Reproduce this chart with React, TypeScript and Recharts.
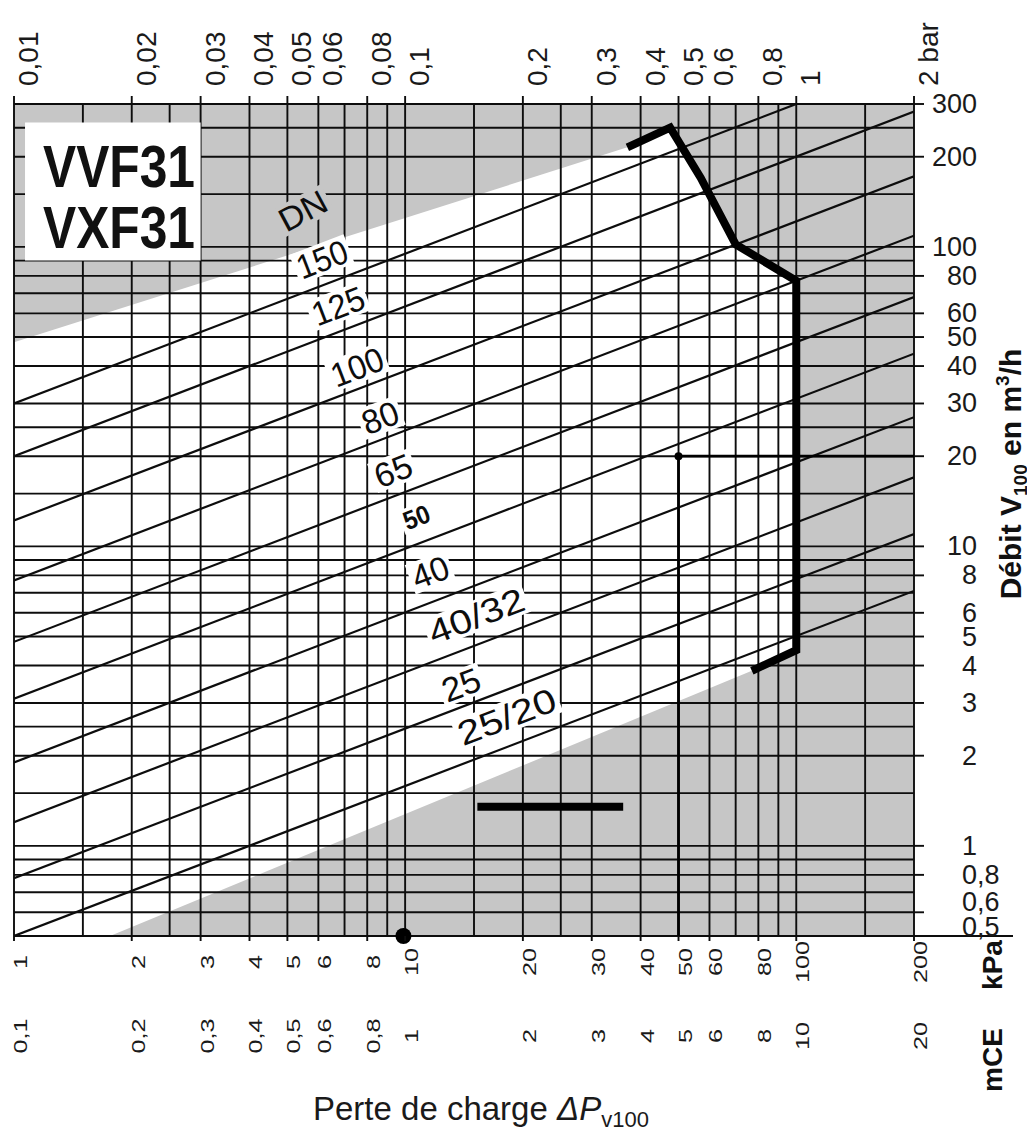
import React from 'react';
import {
  ComposedChart,
  XAxis,
  YAxis,
  ReferenceLine,
  ReferenceArea,
  ReferenceDot,
  Line,
  Area,
} from 'recharts';

// ---------- data ----------
// grid values
const pressureGridKpa = [1, 1.5, 2, 2.5, 3, 4, 5, 6, 7, 8, 9, 10, 15, 20, 25, 30, 40, 50, 60, 70, 80, 90, 100, 150, 200];
const flowGridM3h = [0.5, 0.6, 0.7, 0.8, 0.9, 1, 1.5, 2, 2.5, 3, 4, 5, 6, 7, 8, 9, 10, 15, 20, 25, 30, 40, 50, 60, 70, 80, 90, 100, 150, 200, 250, 300];

// axis ticks
const pressureTicksKpa = [1, 2, 3, 4, 5, 6, 8, 10, 20, 30, 40, 50, 60, 80, 100, 200];
const barTickLabels = ['0,01', '0,02', '0,03', '0,04', '0,05', '0,06', '0,08', '0,1', '0,2', '0,3', '0,4', '0,5', '0,6', '0,8', '1', '2 bar'];
const kpaTickLabels = ['1', '2', '3', '4', '5', '6', '8', '10', '20', '30', '40', '50', '60', '80', '100', '200'];
const mceTickLabels = ['0,1', '0,2', '0,3', '0,4', '0,5', '0,6', '0,8', '1', '2', '3', '4', '5', '6', '8', '10', '20'];
const flowTicks = [0.5, 0.6, 0.8, 1, 2, 3, 4, 5, 6, 8, 10, 20, 30, 40, 50, 60, 80, 100, 200, 300];
const flowTickLabels = ['0,5', '0,6', '0,8', '1', '2', '3', '4', '5', '6', '8', '10', '20', '30', '40', '50', '60', '80', '100', '200', '300'];

// DN lines (start at 1 kPa, end at chart border)
const dnNames = ['150', '125', '100', '80', '65', '50', '40', '40/32', '25', '25/20'];
const dnStartKpa = [1, 1, 1, 1, 1, 1, 1, 1, 1, 1];
const dnStartFlow = [30, 20, 12.2, 7.7, 4.8, 3.1, 1.9, 1.2, 0.78, 0.5];
const dnEndKpa = [100, 200, 200, 200, 200, 200, 200, 200, 200, 200];
const dnEndFlow = [300, 283, 172, 109, 68, 44, 27, 17, 11, 7.1];
const dnLabelKpa = [6.13, 6.74, 7.54, 8.63, 9.32, 10.7, 11.6, 15.2, 13.9, 18.2];
const dnLabelFlow = [91, 63.5, 39.7, 26.9, 17.9, 12.5, 8.2, 5.86, 3.45, 2.7];
const dnHeaderKpa = 5.48;
const dnHeaderFlow = 132;

// thick limit curve
const limitKpa = [37, 47.6, 57, 70, 100, 100, 77];
const limitFlow = [215, 250, 170, 102, 77, 4.5, 3.84];

// white band boundaries
const bandTopKpa = [1, 37, 47.6, 57, 70, 100];
const bandTopFlow = [48, 215, 250, 170, 102, 77];
const bandLowKpa = [1.76, 77, 100];
const bandLowFlow = [0.5, 3.84, 4.5];

// example reading
const exampleKpa = [50, 50, 200];
const exampleFlow = [0.5, 20, 20];
const legendBarKpa = [15.3, 36.1];
const legendBarFlow = [1.35, 1.35];
const bottomDotKpa = 9.9;
const bottomDotFlow = 0.5;

// title box extent
const boxKpa = [1.067, 3];
const boxFlow = [90, 260];

// ---------- derived tables ----------
const toPts = (xs: number[], ys: number[]) => xs.map((x, i) => ({ x, y: ys[i] }));
const dnSeries = dnNames.map((n, i) => ({
  name: n,
  points: [
    { x: dnStartKpa[i], y: dnStartFlow[i] },
    { x: dnEndKpa[i], y: dnEndFlow[i] },
  ],
}));
const limitPts = toPts(limitKpa, limitFlow);
const bandTopPts = toPts(bandTopKpa, bandTopFlow);
const bandLowPts = toPts(bandLowKpa, bandLowFlow);
const examplePts = toPts(exampleKpa, exampleFlow);
const legendBarPts = toPts(legendBarKpa, legendBarFlow);

// ---------- styles ----------
const FONT = '"Liberation Sans", Arial, Helvetica, sans-serif';
const GRAY = '#c6c6c6';
const INK = '#0d0d0d';
const GRID_W = 1.9;

const labelStyle: Record<string, { len: number; fs: number; bold?: boolean }> = {
  '150': { len: 52, fs: 34 },
  '125': { len: 54, fs: 34 },
  '100': { len: 54, fs: 34 },
  '80': { len: 37, fs: 34 },
  '65': { len: 38, fs: 34 },
  '50': { len: 27, fs: 26, bold: true },
  '40': { len: 37, fs: 34 },
  '40/32': { len: 100, fs: 34 },
  '25': { len: 39, fs: 34 },
  '25/20': { len: 103, fs: 34 },
};
const rightLabelShift: Record<string, number> = { '0,6': -10, '0,5': -9 };

const makeLabelShape = (text: string, rot: number, len: number, fs: number, bold: boolean, bg: string) =>
  (props: any) => {
    const { cx, cy } = props;
    const h = fs * 0.74 + 6;
    return (
      <g transform={`translate(${cx},${cy}) rotate(${rot})`}>
        <rect x={-len / 2 - 3} y={-h / 2} width={len + 6} height={h} fill={bg} />
        <text
          x={0}
          y={0}
          textAnchor="middle"
          dominantBaseline="central"
          fontSize={fs}
          fontWeight={bold ? 'bold' : 'normal'}
          fontFamily={FONT}
          fill={INK}
          textLength={len}
          lengthAdjust="spacingAndGlyphs"
        >
          {text}
        </text>
      </g>
    );
  };

const TopTick = (props: any) => {
  const { x, payload } = props;
  const i = pressureTicksKpa.indexOf(payload.value);
  return (
    <text
      transform={`translate(${x + 24},78) rotate(-90)`}
      textAnchor="start"
      fontSize={28}
      fontFamily={FONT}
      fill="#1a1a1a"
    >
      {barTickLabels[i]}
    </text>
  );
};

const BottomTick = (props: any) => {
  const { x, payload } = props;
  const i = pressureTicksKpa.indexOf(payload.value);
  const bx = x + 13;
  return (
    <g>
      <text
        transform={`translate(${bx},954) rotate(-90) scale(1.33,1)`}
        textAnchor="middle"
        fontSize={19}
        fontFamily={FONT}
        fill="#1a1a1a"
      >
        {kpaTickLabels[i]}
      </text>
      <text
        transform={`translate(${bx},1028) rotate(-90) scale(1.33,1)`}
        textAnchor="middle"
        fontSize={19}
        fontFamily={FONT}
        fill="#1a1a1a"
      >
        {mceTickLabels[i]}
      </text>
    </g>
  );
};

const RightTick = (props: any) => {
  const { y, payload } = props;
  const i = flowTicks.indexOf(payload.value);
  const label = flowTickLabels[i];
  const parts = label.split(',');
  const yy = y + (rightLabelShift[label] || 0);
  return (
    <g>
      {payload.value === 0.5 && <line x1={906} x2={1005} y1={y} y2={y} stroke={INK} strokeWidth={GRID_W} />}
      <text x={969} y={yy} textAnchor="end" dominantBaseline="central" fontSize={27} fontFamily={FONT} fill="#1a1a1a">
        {parts[0]}
      </text>
      {parts.length > 1 && (
        <text x={969} y={yy} textAnchor="start" dominantBaseline="central" fontSize={27} fontFamily={FONT} fill="#1a1a1a">
          {',' + parts[1]}
        </text>
      )}
    </g>
  );
};

const TitleBoxLabel = (props: any) => {
  const vb = props.viewBox || { x: 0, y: 0 };
  return (
    <g>
      <text x={vb.x + 18} y={vb.y + 64} fontSize={60} fontWeight="bold" fontFamily={FONT} fill="#111" textLength={152} lengthAdjust="spacingAndGlyphs">
        VVF31
      </text>
      <text x={vb.x + 18} y={vb.y + 125} fontSize={60} fontWeight="bold" fontFamily={FONT} fill="#111" textLength={152} lengthAdjust="spacingAndGlyphs">
        VXF31
      </text>
    </g>
  );
};

export default function App() {
  const ax = { xAxisId: 'kpa', yAxisId: 'flow' } as const;
  return (
    <div style={{ position: 'relative', width: 1027, height: 1128, background: '#fff' }}>
      <ComposedChart width={1027} height={1128} margin={{ top: 0, right: 11, bottom: 50, left: 6 }}>
        <XAxis
          xAxisId="kpa"
          type="number"
          dataKey="x"
          scale="log"
          domain={[1, 200]}
          allowDataOverflow
          ticks={pressureTicksKpa}
          interval={0}
          orientation="bottom"
          height={150}
          tickSize={5}
          tickLine={{ stroke: INK, strokeWidth: GRID_W }}
          axisLine={false}
          tick={(p: any) => <BottomTick {...p} />}
        />
        <XAxis
          xAxisId="bar"
          type="number"
          dataKey="x"
          scale="log"
          domain={[1, 200]}
          allowDataOverflow
          ticks={pressureTicksKpa}
          interval={0}
          orientation="top"
          height={96}
          tickSize={8}
          tickLine={{ stroke: INK, strokeWidth: GRID_W }}
          axisLine={false}
          tick={(p: any) => <TopTick {...p} />}
        />
        <YAxis
          yAxisId="flow"
          type="number"
          dataKey="y"
          scale="log"
          domain={[0.5, 300]}
          allowDataOverflow
          ticks={flowTicks}
          interval={0}
          orientation="right"
          width={110}
          tickSize={10}
          tickLine={{ stroke: INK, strokeWidth: GRID_W }}
          axisLine={false}
          tick={(p: any) => <RightTick {...p} />}
        />

        {/* gray background */}
        <ReferenceArea {...ax} x1={1} x2={200} y1={0.5} y2={300} fill={GRAY} fillOpacity={1} stroke="none" zIndex={10} />
        {/* white band */}
        <Area
          {...ax}
          data={bandTopPts}
          dataKey="y"
          type="linear"
          baseValue={0.5}
          fill="#ffffff"
          fillOpacity={1}
          stroke="none"
          isAnimationActive={false}
          dot={false}
          activeDot={false}
          legendType="none"
          zIndex={20}
        />
        <Area
          {...ax}
          data={bandLowPts}
          dataKey="y"
          type="linear"
          baseValue={0.5}
          fill={GRAY}
          fillOpacity={1}
          stroke="none"
          isAnimationActive={false}
          dot={false}
          activeDot={false}
          legendType="none"
          zIndex={30}
        />

        {/* grid */}
        {pressureGridKpa.map((v) => (
          <ReferenceLine key={'vx' + v} {...ax} x={v} stroke={INK} strokeWidth={GRID_W} zIndex={40} />
        ))}
        {flowGridM3h.map((v) => (
          <ReferenceLine key={'hy' + v} {...ax} y={v} stroke={INK} strokeWidth={GRID_W} zIndex={40} />
        ))}

        {/* title box */}
        <ReferenceArea
          {...ax}
          x1={boxKpa[0]}
          x2={boxKpa[1]}
          y1={boxFlow[0]}
          y2={boxFlow[1]}
          fill="#ffffff"
          fillOpacity={1}
          stroke="none"
          zIndex={50}
          label={(p: any) => <TitleBoxLabel {...p} />}
        />

        {/* DN labels */}
        <ReferenceDot
          {...ax}
          x={dnHeaderKpa}
          y={dnHeaderFlow}
          r={0}
          zIndex={60}
          shape={makeLabelShape('DN', -28, 50, 33, false, GRAY)}
        />
        {dnNames.map((n, i) => {
          const s = labelStyle[n];
          return (
            <ReferenceDot
              key={'lbl' + n}
              {...ax}
              x={dnLabelKpa[i]}
              y={dnLabelFlow[i]}
              r={0}
              zIndex={60}
              shape={makeLabelShape(n, -21, s.len, s.fs, !!s.bold, '#ffffff')}
            />
          );
        })}

        {/* DN lines */}
        {dnSeries.map((s) => (
          <Line
            key={'dn' + s.name}
            {...ax}
            data={s.points}
            dataKey="y"
            type="linear"
            stroke={INK}
            strokeWidth={2.2}
            dot={false}
            activeDot={false}
            isAnimationActive={false}
            legendType="none"
            zIndex={70}
          />
        ))}

        {/* limit curve */}
        <Line
          {...ax}
          data={limitPts}
          dataKey="y"
          type="linear"
          stroke="#000"
          strokeWidth={8}
          strokeLinejoin="miter"
          dot={false}
          activeDot={false}
          isAnimationActive={false}
          legendType="none"
          zIndex={80}
        />
        <Line
          {...ax}
          data={legendBarPts}
          dataKey="y"
          type="linear"
          stroke="#000"
          strokeWidth={8}
          dot={false}
          activeDot={false}
          isAnimationActive={false}
          legendType="none"
          zIndex={80}
        />
        {/* example reading */}
        <Line
          {...ax}
          data={examplePts}
          dataKey="y"
          type="linear"
          stroke="#000"
          strokeWidth={2.8}
          dot={false}
          activeDot={false}
          isAnimationActive={false}
          legendType="none"
          zIndex={90}
        />
        <ReferenceDot {...ax} x={exampleKpa[1]} y={exampleFlow[1]} r={4} fill="#000" stroke="none" zIndex={95} />
        <ReferenceDot {...ax} x={bottomDotKpa} y={bottomDotFlow} r={8} fill="#000" stroke="none" zIndex={95} />
      </ComposedChart>

      <svg
        width={1027}
        height={1128}
        style={{ position: 'absolute', left: 0, top: 0, pointerEvents: 'none' }}
        fontFamily={FONT}
      >
        <text x={305} y={1112} fontSize={33} fill="#1a1a1a">
          Perte de charge <tspan fontStyle="italic">ΔP</tspan>
          <tspan fontSize={22} dy={7}>v100</tspan>
        </text>
        <text transform="translate(1013,466) rotate(-90)" textAnchor="middle" fontSize={30} fontWeight="bold" fill="#111">
          Débit V<tspan fontSize={19} dy={6}>100</tspan>
          <tspan dy={-6}> en m</tspan>
          <tspan fontSize={19} dy={-12}>3</tspan>
          <tspan dy={12}>/h</tspan>
        </text>
        <text transform="translate(994,957) rotate(-90)" textAnchor="middle" fontSize={28} fontWeight="bold" fill="#111">
          kPa
        </text>
        <text transform="translate(994,1052) rotate(-90)" textAnchor="middle" fontSize={28} fontWeight="bold" fill="#111">
          mCE
        </text>
      </svg>
    </div>
  );
}
